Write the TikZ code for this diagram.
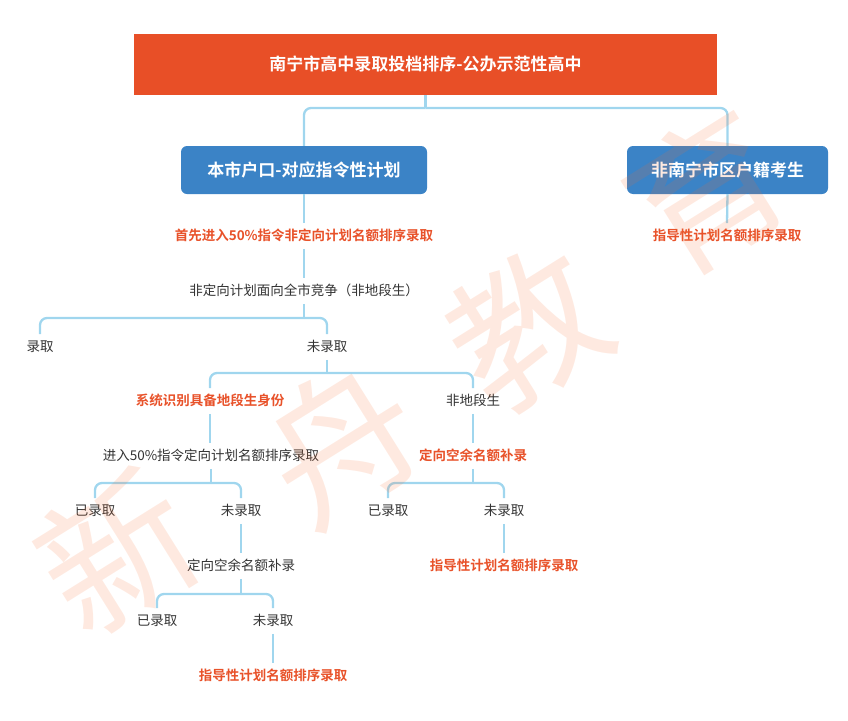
\documentclass[tikz,border=0pt]{standalone}
\usepackage{fontspec}
\setmainfont{Noto Sans CJK SC}
\newfontfamily\cjkb{Noto Sans CJK SC Bold}
\definecolor{titlered}{RGB}{232,79,39}
\definecolor{boxblue}{RGB}{59,131,198}
\definecolor{hiorange}{RGB}{232,82,42}
\definecolor{linkblue}{RGB}{160,214,238}
\definecolor{wmark}{RGB}{245,110,50}
\tikzset{
  conn/.style={draw=linkblue, line width=2.3pt, rounded corners=7pt},
  txt/.style={inner xsep=2pt, inner ysep=6pt, text height=11pt, text depth=2.5pt, font=\fontsize{13.5}{15}\selectfont, text=black!80},
  hot/.style={txt, font=\cjkb\fontsize{13.5}{15}\selectfont, text=hiorange},
  bluebox/.style={fill=boxblue, rounded corners=6pt, minimum height=48pt, text=white, font=\cjkb\fontsize{17}{19}\selectfont, inner sep=0pt},
  wm/.style={text=wmark, text opacity=0.15, font=\fontsize{152}{156}\selectfont, rotate=32, inner sep=0pt}
}
\begin{document}
\begin{tikzpicture}[x=1pt,y=-1pt]
\useasboundingbox (0,0) rectangle (848,720);
% title
\node[fill=titlered, minimum width=583pt, minimum height=61pt, inner sep=0pt, text=white, font=\cjkb\fontsize{17}{19}\selectfont] (title) at (425.5,64.5) {南宁市高中录取投档排序-公办示范性高中};
\node[bluebox, minimum width=246pt] (b1) at (304,170) {本市户口-对应指令性计划};
\node[bluebox, minimum width=201pt] (b2) at (727.5,170) {非南宁市区户籍考生};
% texts
\node[hot] (t1) at (304,236) {首先进入50\%指令非定向计划名额排序录取};
\node[txt] (t2) at (304,291) {非定向计划面向全市竞争（非地段生）};
\node[txt] (t3) at (40,347) {录取};
\node[txt] (t4) at (327,347) {未录取};
\node[hot] (t5) at (210,401) {系统识别具备地段生身份};
\node[txt] (t6) at (473,401) {非地段生};
\node[txt] (t7) at (211,456) {进入50\%指令定向计划名额排序录取};
\node[hot] (t8) at (473,456) {定向空余名额补录};
\node[txt] (t9) at (95,511) {已录取};
\node[txt] (t10) at (241,511) {未录取};
\node[txt] (t11) at (388,511) {已录取};
\node[txt] (t12) at (504,511) {未录取};
\node[txt] (t13) at (241,566) {定向空余名额补录};
\node[hot] (t14) at (504,566) {指导性计划名额排序录取};
\node[txt] (t15) at (157,621) {已录取};
\node[txt] (t16) at (273,621) {未录取};
\node[hot] (t17) at (273,676) {指导性计划名额排序录取};
\node[hot] (t18) at (727,236) {指导性计划名额排序录取};
% branch points
\coordinate (j0) at (425.5,108);
\coordinate (j1) at (304,318);
\coordinate (j2) at (327,373);
\coordinate (j3) at (211,483);
\coordinate (j4) at (473,483);
\coordinate (j5) at (241,594);
% connectors
\draw[conn] (title.south) -- (j0);
\draw[conn] (j0) -| (b1.north);
\draw[conn] (j0) -| (b2.north);
\draw[conn] (b1.south) -- (t1.north);
\draw[conn] (t1.south) -- (t2.north);
\draw[conn] (t2.south) -- (j1);
\draw[conn] (j1) -| (t3.north);
\draw[conn] (j1) -| (t4.north);
\draw[conn] (t4.south) -- (j2);
\draw[conn] (j2) -| (t5.north);
\draw[conn] (j2) -| (t6.north);
\draw[conn] (t5.south) -- (t5.south |- t7.north);
\draw[conn] (t6.south) -- (t8.north);
\draw[conn] (t7.south) -- (j3);
\draw[conn] (j3) -| (t9.north);
\draw[conn] (j3) -| (t10.north);
\draw[conn] (t8.south) -- (j4);
\draw[conn] (j4) -| (t11.north);
\draw[conn] (j4) -| (t12.north);
\draw[conn] (t10.south) -- (t13.north);
\draw[conn] (t12.south) -- (t14.north);
\draw[conn] (t13.south) -- (j5);
\draw[conn] (j5) -| (t15.north);
\draw[conn] (j5) -| (t16.north);
\draw[conn] (t16.south) -- (t17.north);
\draw[conn] (b2.south) -- (t18.north);
% watermark (on top, translucent)
\node[wm] (w1) at (117,552) {新};
\node[wm] (w2) at (341,442) {舟};
\node[wm] (w3) at (527,328) {教};
\node[wm] (w4) at (706,192) {育};
\end{tikzpicture}
\end{document}
